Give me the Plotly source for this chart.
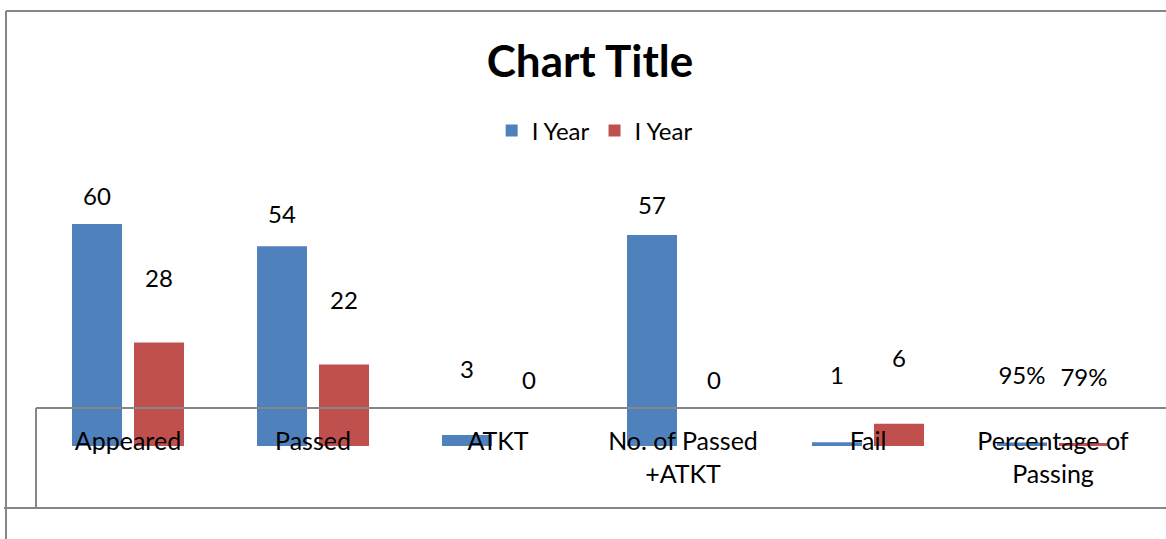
import plotly.graph_objects as go

categories = ["Appeared", "Passed", "ATKT", "No. of Passed<br>+ATKT", "Fail", "Percentage of<br>Passing"]
series_names = ["I Year", "I Year"]
blue_values = [60, 54, 3, 57, 1, 0.95]
red_values = [28, 22, 0, 0, 6, 0.79]
is_percent = [False, False, False, False, False, True]

BLUE = "#4F81BD"
RED = "#C0504D"
GRID = "#868686"
FONT = "Lato"

W, H = 1166, 539


def fmt(v, pct):
    return f"{v:.0%}" if pct else f"{v:g}"


def px_x(p):
    return p / W


def px_y(p):
    return 1 - p / H


idx = list(range(len(categories)))
slot = 1 / 185          # one pixel in category units
shift = 31 * slot       # half distance between paired bars
bar_w = 50 * slot

fig = go.Figure()
fig.add_trace(go.Bar(x=idx, y=blue_values, name=series_names[0], marker=dict(color=BLUE, line_width=0),
                     width=bar_w, offset=-shift - bar_w / 2, hoverinfo="skip"))
fig.add_trace(go.Bar(x=idx, y=red_values, name=series_names[1], marker=dict(color=RED, line_width=0),
                     width=bar_w, offset=shift - bar_w / 2, hoverinfo="skip"))

# data labels live on their own (hidden) value axes, as in the source chart
fig.add_trace(go.Scatter(x=[i - shift for i in idx], y=blue_values, yaxis="y2", mode="text",
                         text=[fmt(v, p) for v, p in zip(blue_values, is_percent)],
                         textfont=dict(size=24, color="black", family=FONT),
                         showlegend=False, hoverinfo="skip"))
fig.add_trace(go.Scatter(x=[i + shift for i in idx], y=red_values, yaxis="y3", mode="text",
                         text=[fmt(v, p) for v, p in zip(red_values, is_percent)],
                         textfont=dict(size=24, color="black", family=FONT),
                         showlegend=False, hoverinfo="skip"))

line = dict(color=GRID, width=2)
shapes = [
    dict(type="line", xref="paper", yref="paper", x0=px_x(6), x1=px_x(W), y0=px_y(11), y1=px_y(11), line=line),
    dict(type="line", xref="paper", yref="paper", x0=px_x(6), x1=px_x(6), y0=px_y(11), y1=px_y(H), line=line),
    dict(type="line", xref="paper", yref="paper", x0=px_x(4), x1=px_x(W), y0=px_y(508), y1=px_y(508), line=line),
    dict(type="line", xref="paper", yref="paper", x0=px_x(36), x1=px_x(W), y0=px_y(408), y1=px_y(408), line=line),
    dict(type="line", xref="paper", yref="paper", x0=px_x(36), x1=px_x(36), y0=px_y(408), y1=px_y(508), line=line),
]

fig.update_layout(
    width=W, height=H,
    margin=dict(l=0, r=0, t=0, b=0, pad=0),
    paper_bgcolor="white", plot_bgcolor="white",
    font=dict(family=FONT, size=25, color="black"),
    title=dict(text="<b>Chart Title</b>", x=0.506, xanchor="center", y=px_y(62), yanchor="middle",
               font=dict(size=44, family=FONT, color="black")),
    barmode="overlay",
    showlegend=True,
    legend=dict(orientation="h", x=0.51, xanchor="center", y=px_y(131), yanchor="middle",
                font=dict(size=24, family=FONT), itemwidth=30, bgcolor="rgba(0,0,0,0)"),
    xaxis=dict(domain=[px_x(35.5), px_x(1145.5)], range=[-0.5, 5.5], tickvals=idx, ticktext=categories,
               showgrid=False, zeroline=False, showline=False, ticks="", ticklabelstandoff=-22,
               tickfont=dict(size=25, family=FONT)),
    yaxis=dict(domain=[px_y(446), px_y(150)], range=[0, 80], visible=False, showgrid=False),
    yaxis2=dict(overlaying="y", range=[-21.45, 76.24], visible=False),
    yaxis3=dict(overlaying="y", range=[-17.31, 64.01], visible=False),
    shapes=shapes,
)

# drop the browser's default 8px body margin so the figure sits at the page origin
fig.write_html("out.html", config={"displayModeBar": False},
               post_script="document.body.style.margin = '0';")
